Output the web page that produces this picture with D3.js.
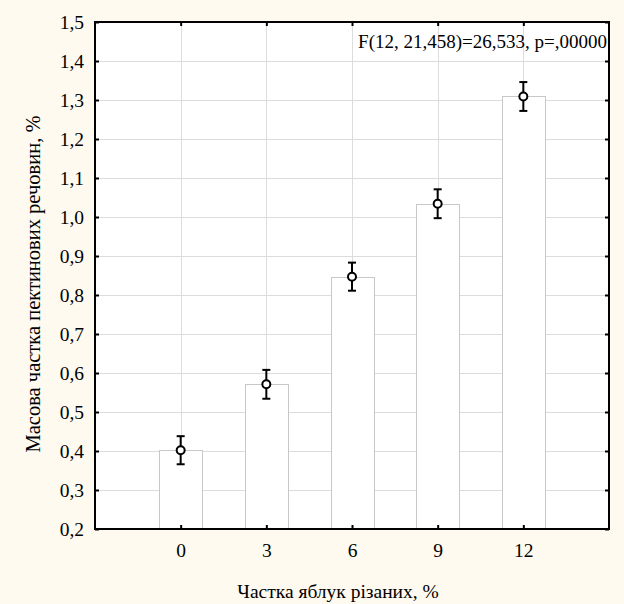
<!DOCTYPE html>
<html>
<head>
<meta charset="utf-8">
<script src="https://cdn.jsdelivr.net/npm/d3@7"></script>
<style>
  html, body { margin: 0; padding: 0; background: #fefaf0; }
  svg { display: block; }
  text { font-family: "Liberation Serif", "Times New Roman", serif; fill: #000; }
</style>
</head>
<body>
<svg id="chart" width="624" height="604"></svg>
<script>
const categories = [0, 3, 6, 9, 12];
const means = [0.402, 0.571, 0.847, 1.034, 1.309];
const errors = [0.036, 0.037, 0.036, 0.037, 0.037];
const yTicks = [0.2, 0.3, 0.4, 0.5, 0.6, 0.7, 0.8, 0.9, 1.0, 1.1, 1.2, 1.3, 1.4, 1.5];
const xTitle = "Частка яблук різаних, %";
const yTitle = "Масова частка пектинових речовин, %";
const statText = "F(12, 21,458)=26,533, p=,00000";

const svg = d3.select("#chart");
const W = 624, H = 604;
const L = 95, R = 609, T = 22, B = 529;

svg.append("rect").attr("width", W).attr("height", H).attr("fill", "#fefaf0");

const x = d3.scaleLinear().domain([-3, 15]).range([L, R]);
const y = d3.scaleLinear().domain([0.2, 1.5]).range([B, T]);
const fmt = d => d3.format(".1f")(d).replace(".", ",");

// plot background
svg.append("rect").attr("x", L).attr("y", T).attr("width", R - L).attr("height", B - T).attr("fill", "#fff");

// gridlines
const grid = svg.append("g").attr("stroke", "#dcdcdc").attr("stroke-width", 1);
grid.selectAll("line.h").data(yTicks.slice(1, -1)).join("line")
  .attr("x1", L).attr("x2", R)
  .attr("y1", d => Math.round(y(d)) + 0.5).attr("y2", d => Math.round(y(d)) + 0.5);
grid.selectAll("line.v").data(categories).join("line")
  .attr("y1", T).attr("y2", B)
  .attr("x1", d => Math.round(x(d)) + 0.5).attr("x2", d => Math.round(x(d)) + 0.5);

// bars
const bw = x(1.5) - x(0);
svg.append("g").selectAll("rect").data(categories).join("rect")
  .attr("x", (d) => Math.round(x(d) - bw / 2) + 0.5)
  .attr("y", (d, i) => Math.round(y(means[i])) + 0.5)
  .attr("width", Math.round(bw))
  .attr("height", (d, i) => B - Math.round(y(means[i])) - 0.5)
  .attr("fill", "#fff").attr("stroke", "#c8c8c8").attr("stroke-width", 1);

// error bars
const eb = svg.append("g").attr("stroke", "#000").attr("stroke-width", 2).attr("fill", "none");
categories.forEach((c, i) => {
  const cx = x(c);
  const y1 = y(means[i] + errors[i]), y2 = y(means[i] - errors[i]);
  eb.append("line").attr("x1", cx).attr("x2", cx).attr("y1", y1).attr("y2", y2);
  eb.append("line").attr("x1", cx - 4).attr("x2", cx + 4).attr("y1", y1).attr("y2", y1);
  eb.append("line").attr("x1", cx - 4).attr("x2", cx + 4).attr("y1", y2).attr("y2", y2);
  eb.append("circle").attr("cx", cx).attr("cy", y(means[i])).attr("r", 4).attr("fill", "#fff");
});

// axes
const axL = svg.append("g").attr("transform", `translate(${L},0)`)
  .call(d3.axisLeft(y).tickValues(yTicks).tickFormat(fmt).tickSize(-4).tickPadding(11));
const axR = svg.append("g").attr("transform", `translate(${R},0)`)
  .call(d3.axisRight(y).tickValues(yTicks).tickFormat("").tickSize(-4));
const axB = svg.append("g").attr("transform", `translate(0,${B})`)
  .call(d3.axisBottom(x).tickValues(categories).tickFormat(d3.format("d")).tickSize(-4).tickPadding(14));
const axT = svg.append("g").attr("transform", `translate(0,${T})`)
  .call(d3.axisTop(x).tickValues(categories).tickFormat("").tickSize(-4));
[axL, axR, axB, axT].forEach(a => {
  a.select(".domain").remove();
  a.selectAll(".tick line").attr("stroke", "#000").attr("stroke-width", 2);
  a.selectAll("text").attr("font-size", 19.5).attr("font-family", "Liberation Serif");
});

// frame
svg.append("rect").attr("x", L).attr("y", T).attr("width", R - L).attr("height", B - T)
  .attr("fill", "none").attr("stroke", "#000").attr("stroke-width", 2);

// stat text
svg.append("text").attr("x", R - 2).attr("y", 48).attr("text-anchor", "end")
  .attr("font-size", 19).text(statText);

// axis titles
svg.append("text").attr("x", 338).attr("y", 598).attr("text-anchor", "middle")
  .attr("font-size", 19.5).text(xTitle);
svg.append("text").attr("transform", `translate(40,284) rotate(-90)`).attr("text-anchor", "middle")
  .attr("font-size", 20.5).text(yTitle);
</script>
</body>
</html>
